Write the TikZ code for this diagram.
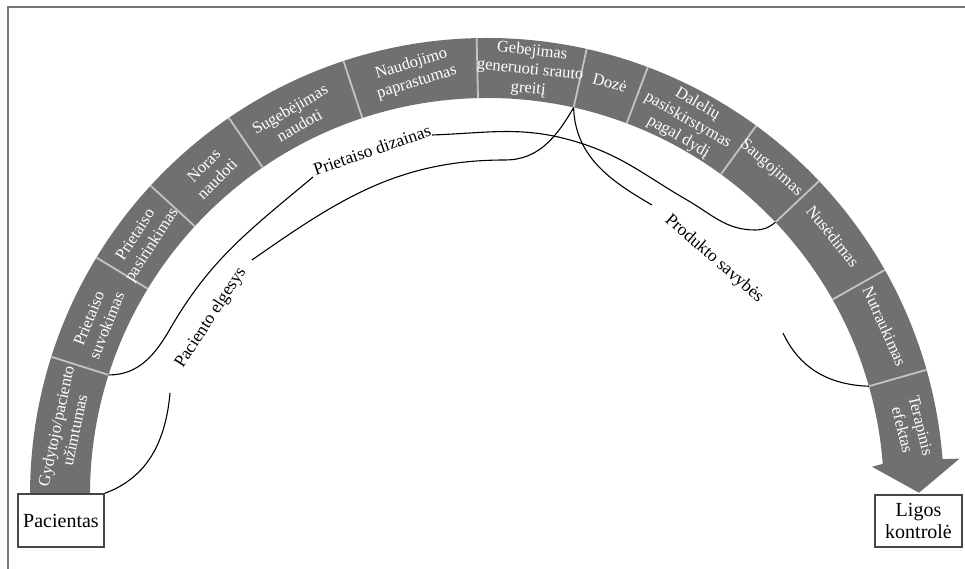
\documentclass[tikz,border=0pt]{standalone}
\usepackage{fontspec}
\setmainfont{Liberation Serif}
\usetikzlibrary{calc}
\definecolor{bandgray}{RGB}{112,112,112}
\definecolor{sepgray}{RGB}{195,195,195}
\definecolor{framegray}{RGB}{120,120,120}
\definecolor{boxgray}{RGB}{70,70,70}
\begin{document}
\begin{tikzpicture}[x=1pt,y=1pt,
  seglbl/.style={text=white, align=center, inner sep=0pt, font=\fontsize{16.5}{19}\selectfont},
  lbl/.style={text=black, inner sep=0pt, font=\fontsize{17.5}{20}\selectfont},
  endbox/.style={draw=boxgray, line width=1.4pt, fill=white, inner sep=0pt, align=center, font=\fontsize{20}{22}\selectfont},
  sepline/.style={draw=sepgray, line width=1.8pt},
  conn/.style={draw=black, line width=1.1pt}]
\useasboundingbox (0,0) rectangle (965,569);
\draw[framegray, line width=1.5pt] (8,0) -- (8,562) -- (965,562);
\coordinate (C) at (487,74);
\begin{scope}[shift={(C)}]
  \fill[bandgray] (180:457) arc[start angle=180,end angle=4.5,radius=457]
     -- (4.4:474) -- (0.3:432) -- (4.2:386) -- (4.5:397)
     arc[start angle=4.5,end angle=180,radius=397] -- cycle;
  \foreach \a/\n in {162.4/1,148.7/2,137.4/3,124.4/4,108.3/5,91.3/6,77.4/7,69.4/8,53.9/9,43.4/10,29.5/11,15.9/12}{
    \draw[sepline] (\a:397) -- (\a:457);
    \coordinate (s\n) at (\a:397);
  }
  \node[seglbl, rotate=78]  (t1)  at (171:427)   {Gydytojo/paciento\\užimtumas};
  \node[seglbl, rotate=68]  (t2)  at (156:426)   {Prietaiso\\suvokimas};
  \node[seglbl, rotate=57]  (t3)  at (143.4:427) {Prietaiso\\pasirinkimas};
  \node[seglbl, rotate=45]  (t4)  at (130.6:425) {Noras\\naudoti};
  \node[seglbl, rotate=30]  (t5)  at (117:424)   {Sugebėjimas\\naudoti};
  \node[seglbl, rotate=17]  (t6)  at (99.8:428)  {Naudojimo\\paprastumas};
  \node[seglbl, rotate=-6]  (t7)  at (84.2:427)  {Gebejimas\\generuoti srauto\\greitį};
  \node[seglbl, rotate=-16] (t8)  at (73.4:430)  {Dozė};
  \node[seglbl, rotate=-30] (t9)  at (61.8:425)  {Dalelių\\pasiskirstymas\\pagal dydį};
  \node[seglbl, rotate=-41] (t10) at (49:433)    {Saugojimas};
  \node[seglbl, rotate=-51] (t11) at (36.8:432)  {Nusėdimas};
  \node[seglbl, rotate=-66] (t12) at (23:432)    {Nutraukimas};
  \node[seglbl, rotate=-76] (t13) at (9:430)     {Terapinis\\efektas};
\end{scope}

\node[endbox, minimum width=86pt, minimum height=53pt] (pac) at (61,48.5) {Pacientas};
\node[endbox, minimum width=87pt, minimum height=52pt] (lig) at (918.5,48) {Ligos\\kontrolė};

\node[lbl, rotate=57]  (lblA) at (211,251) {Paciento elgesys};
\node[lbl, rotate=19]  (lblB) at (372,419) {Prietaiso dizainas};
\node[lbl, rotate=-41] (lblC) at (714,310) {Produkto savybės};

\coordinate (a1) at (170,176);
\coordinate (a2) at (252,309);
\coordinate (a3) at (505,409);
\coordinate (b1) at (170,240);
\coordinate (b2) at (313,392);
\coordinate (b3) at (432,434);
\coordinate (bm) at (577,427);
\coordinate (b4) at (687,369);
\coordinate (b5) at (755,339);
\coordinate (c1) at (652,364);
\coordinate (c2) at (783,236);

\draw[conn] (pac.north east) to[out=20,in=-95] (a1);
\draw[conn] (a2) to[out=35,in=180] (a3) to[out=0,in=-120] (s7);
\draw[conn] (s1) to[out=0,in=240] (b1) to[out=60,in=220] (b2);
\draw[conn] (b3) to[out=2,in=163] (bm) to[out=-17,in=150] (b4) to[out=-30,in=180] (b5) to[out=0,in=-140] (s10);
\draw[conn] (s7) to[out=-88,in=150] (c1);
\draw[conn] (c2) to[out=-65,in=178] (s12);
\end{tikzpicture}
\end{document}
